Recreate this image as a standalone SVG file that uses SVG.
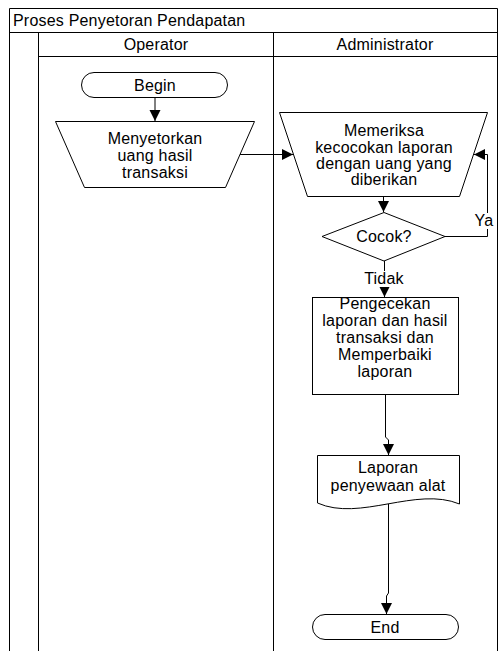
<svg xmlns="http://www.w3.org/2000/svg" width="498" height="651" viewBox="0 0 498 651">
  <defs>
    <marker id="arrow" markerUnits="userSpaceOnUse" markerWidth="12" markerHeight="12" refX="11" refY="5.5" orient="auto">
      <path d="M0,0 L11,5.5 L0,11 Z" fill="#000"/>
    </marker>
    <style>
      .frame { fill: none; stroke: #000; stroke-width: 1; }
      .shape { fill: #fff; stroke: #000; stroke-width: 1; }
      .conn { fill: none; stroke: #000; stroke-width: 1; marker-end: url(#arrow); }
      .label-bg { fill: #fff; stroke: none; }
      text { font-family: "Liberation Sans", Arial, sans-serif; font-size: 16px; letter-spacing: 0.2px; fill: #000; }
      .c { text-anchor: middle; }
    </style>
  </defs>
  <rect width="498" height="651" fill="#fff"/>

  <!-- pool and lanes -->
  <g id="pool">
    <path class="frame" d="M9.5,660 V8.5 H497.5 V660"/>
    <line class="frame" x1="9.5" y1="32.5" x2="497.5" y2="32.5"/>
    <line class="frame" x1="38.5" y1="32.5" x2="38.5" y2="660"/>
    <line class="frame" x1="38.5" y1="56.5" x2="497.5" y2="56.5"/>
    <line class="frame" x1="273.5" y1="32.5" x2="273.5" y2="660"/>
    <text x="13" y="26">Proses Penyetoran Pendapatan</text>
    <text class="c" x="156" y="50">Operator</text>
    <text class="c" x="385" y="50">Administrator</text>
  </g>

  <!-- connectors -->
  <g id="connectors">
    <line class="conn" x1="155" y1="97" x2="155" y2="121"/>
    <line class="conn" x1="240" y1="154.5" x2="293" y2="154.5"/>
    <line class="conn" x1="383.5" y1="196" x2="383.5" y2="212"/>
    <polyline class="conn" points="445,236.5 487.5,236.5 487.5,154.5 474,154.5"/>
    <line class="conn" x1="384.5" y1="261" x2="384.5" y2="297"/>
    <polyline class="conn" points="385.5,394 385.5,437 388.5,440 388.5,455"/>
    <polyline class="conn" points="388.5,503 388.5,593 386.5,596 386.5,614"/>
    <rect class="label-bg" x="474" y="213" width="21" height="16"/>
    <text class="c" x="484" y="226">Ya</text>
    <rect class="label-bg" x="363" y="271" width="43" height="16"/>
    <text class="c" x="384" y="284">Tidak</text>
  </g>

  <g id="begin">
    <rect class="shape" x="81.5" y="72.5" width="146" height="25" rx="12.5" ry="12.5"/>
    <text class="c" x="155" y="91">Begin</text>
  </g>

  <g id="menyetorkan">
    <polygon class="shape" points="55.5,121.5 254.5,121.5 225.5,187.5 84.5,187.5"/>
    <text class="c" x="155" y="144">Menyetorkan</text>
    <text class="c" x="155" y="161">uang hasil</text>
    <text class="c" x="155" y="178">transaksi</text>
  </g>

  <g id="memeriksa">
    <polygon class="shape" points="279.5,112.5 487.5,112.5 459.5,196.5 307.5,196.5"/>
    <text class="c" x="384" y="136">Memeriksa</text>
    <text class="c" x="384" y="152.5">kecocokan laporan</text>
    <text class="c" x="384" y="169">dengan uang yang</text>
    <text class="c" x="384" y="185">diberikan</text>
  </g>

  <g id="cocok">
    <polygon class="shape" points="384,212.5 445,236.5 384,261 322,236.5"/>
    <text class="c" x="384" y="242">Cocok?</text>
  </g>

  <g id="pengecekan">
    <rect class="shape" x="312.5" y="297.5" width="146" height="97"/>
    <text class="c" x="385" y="309">Pengecekan</text>
    <text class="c" x="385" y="326">laporan dan hasil</text>
    <text class="c" x="385" y="343">transaksi dan</text>
    <text class="c" x="385" y="360">Memperbaiki</text>
    <text class="c" x="385" y="377">laporan</text>
  </g>

  <g id="laporan">
    <path class="shape" d="M317.5,455.5 H459.5 V504 C416,486 360,522 317.5,503 Z"/>
    <text class="c" x="388" y="473">Laporan</text>
    <text class="c" x="388" y="491">penyewaan alat</text>
  </g>

  <g id="end">
    <rect class="shape" x="312.5" y="614.5" width="146" height="25" rx="12.5" ry="12.5"/>
    <text class="c" x="385" y="633">End</text>
  </g>
</svg>
